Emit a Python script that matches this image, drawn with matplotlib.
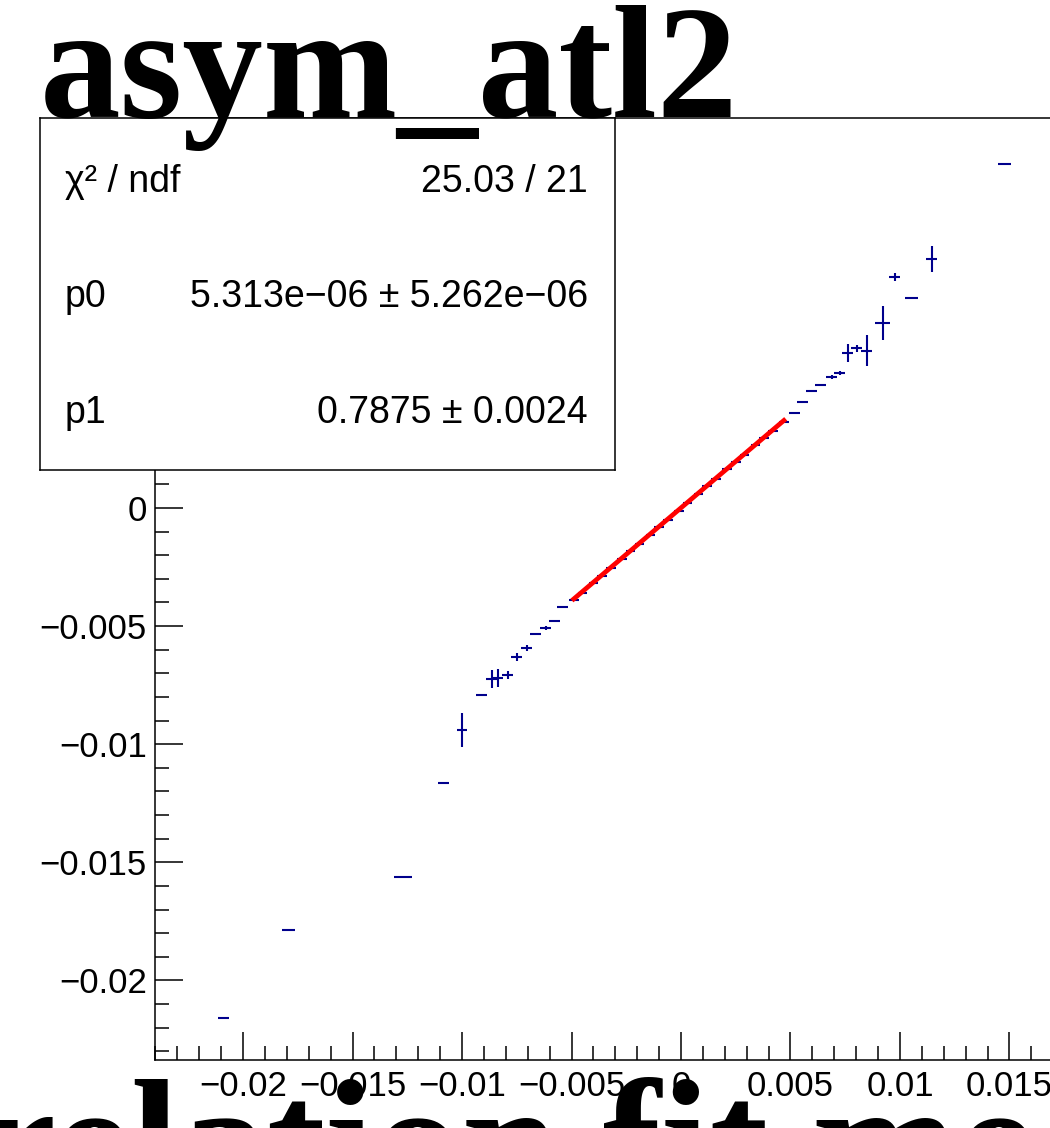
import numpy as np
import matplotlib
matplotlib.use("Agg")
import matplotlib.pyplot as plt
from matplotlib.ticker import MultipleLocator, FuncFormatter

# profile points (x mean, y mean, errors)
x_vals = [-0.02091, -0.01794, -0.01270, -0.01083, -0.01000, -0.00909, -0.00864, -0.00837,
          -0.00791, -0.00750, -0.00704, -0.00663, -0.00618, -0.00577, -0.00540,
          -0.0049, -0.0045, -0.0040, -0.0036, -0.0032, -0.0027, -0.0023, -0.0019,
          -0.0014, -0.0010, -0.0006, -0.0001, 0.0003, 0.0008, 0.0012, 0.0016,
          0.0021, 0.0025, 0.0029, 0.0034, 0.0038, 0.0042, 0.0047,
          0.00519, 0.00556, 0.00597, 0.00638, 0.00688, 0.00725, 0.00761, 0.00802,
          0.00848, 0.00921, 0.00976, 0.01054, 0.01145, 0.01478]
y_vals = [-0.02159, -0.01786, -0.01562, -0.01164, -0.00940, -0.00792, -0.00724, -0.00720,
          -0.00707, -0.00631, -0.00593, -0.00533, -0.00508, -0.00478, -0.00419,
          -0.00390, -0.00358, -0.00318, -0.00287, -0.00256, -0.00216, -0.00184, -0.00152,
          -0.00113, -0.00081, -0.00050, -0.00011, 0.00021, 0.00061, 0.00092, 0.00124,
          0.00163, 0.00195, 0.00226, 0.00265, 0.00296, 0.00328, 0.00366,
          0.00402, 0.00449, 0.00495, 0.00521, 0.00554, 0.00571, 0.00656, 0.00677,
          0.00665, 0.00783, 0.00978, 0.00889, 0.01054, 0.01456]
x_errs = [0.00025, 0.0003, 0.0004, 0.00025, 0.00025, 0.00025, 0.00025, 0.00025,
          0.00025, 0.00025, 0.00025, 0.00025, 0.00025, 0.00025, 0.00025,
          0.00022, 0.00022, 0.00022, 0.00022, 0.00022, 0.00022, 0.00022, 0.00022,
          0.00022, 0.00022, 0.00022, 0.00022, 0.00022, 0.00022, 0.00022, 0.00022,
          0.00022, 0.00022, 0.00022, 0.00022, 0.00022, 0.00022, 0.00022,
          0.00025, 0.00025, 0.00025, 0.00025, 0.00025, 0.00025, 0.00025, 0.00025,
          0.00025, 0.00035, 0.00025, 0.0003, 0.00025, 0.0003]
y_errs = [0.00005, 0.00005, 0.00005, 0.00005, 0.00072, 0.00005, 0.0004, 0.0004,
          0.00015, 0.00015, 0.00012, 0.00005, 0.00008, 0.00005, 0.00005,
          0.00004, 0.00004, 0.00004, 0.00004, 0.00004, 0.00004, 0.00004, 0.00004,
          0.00004, 0.00004, 0.00004, 0.00004, 0.00004, 0.00004, 0.00004, 0.00004,
          0.00004, 0.00004, 0.00004, 0.00004, 0.00004, 0.00004, 0.00004,
          0.00004, 0.00005, 0.00006, 0.00005, 0.00008, 0.00008, 0.0004, 0.00015,
          0.00066, 0.0007, 0.00015, 0.00004, 0.00055, 0.00004]

# linear fit result
p0 = 5.313e-06
p1 = 0.7875
fit_range = [-0.0049, 0.0047]

W, H = 1050, 1128
fig = plt.figure(figsize=(W / 100, H / 100), dpi=100)

ax = fig.add_axes([155 / W, 1 - 1060 / H, (1207 - 155) / W, (1060 - 118) / H])
ax.errorbar(x_vals, y_vals, xerr=x_errs, yerr=y_errs, fmt='none',
            ecolor='#00008c', elinewidth=1.5, capsize=0)
fx = np.array(fit_range)
ax.plot(fx, p0 + p1 * fx, color='#ff0000', lw=3.4, zorder=3)

ax.set_xlim(-0.02402, 0.02402)
ax.set_ylim(-0.02337, 0.01651)

fmt = FuncFormatter(lambda v, pos: format(round(v, 6), 'g').replace('-', '\u2212'))
for axis in (ax.xaxis, ax.yaxis):
    axis.set_major_locator(MultipleLocator(0.005))
    axis.set_minor_locator(MultipleLocator(0.001))
    axis.set_major_formatter(fmt)
ax.tick_params(which='both', direction='in', top=False, right=False, width=1.1,
               labelsize=25)
ax.tick_params(which='major', length=20)
ax.tick_params(which='minor', length=10)
ax.tick_params(axis='x', pad=7)
ax.tick_params(axis='y', pad=6)
for lab in ax.get_xticklabels() + ax.get_yticklabels():
    lab.set_family('Liberation Sans')
for s in ax.spines.values():
    s.set_linewidth(1.1)

# stats box
box = fig.add_axes([40 / W, 1 - 470 / H, 575 / W, 352 / H])
box.set_xticks([])
box.set_yticks([])
box.set_facecolor('white')
for s in box.spines.values():
    s.set_linewidth(1.1)
rows = [('\u03c7\u00b2 / ndf', '25.03 / 21', 0.790),
        ('p0', '5.313e\u221206 \u00b1 5.262e\u221206', 0.463),
        ('p1', '0.7875 \u00b1 0.0024', 0.134)]
for left, right, yy in rows:
    box.text(0.0435, yy, left, transform=box.transAxes, fontsize=27,
             family='Liberation Sans', va='baseline', ha='left')
    box.text(0.953, yy, right, transform=box.transAxes, fontsize=27,
             family='Liberation Sans', va='baseline', ha='right')

fig.text(40 / W, 1 - 117 / H, 'asym_atl2', fontsize=116, fontweight='bold',
         family='Liberation Serif', ha='left', va='baseline', zorder=5)
fig.text(-313 / W, 1 - 1201 / H, 'Correlation fit mean', fontsize=126,
         fontweight='bold', family='Liberation Serif', ha='left', va='baseline',
         zorder=5)

fig.savefig('out.png', dpi=100)
